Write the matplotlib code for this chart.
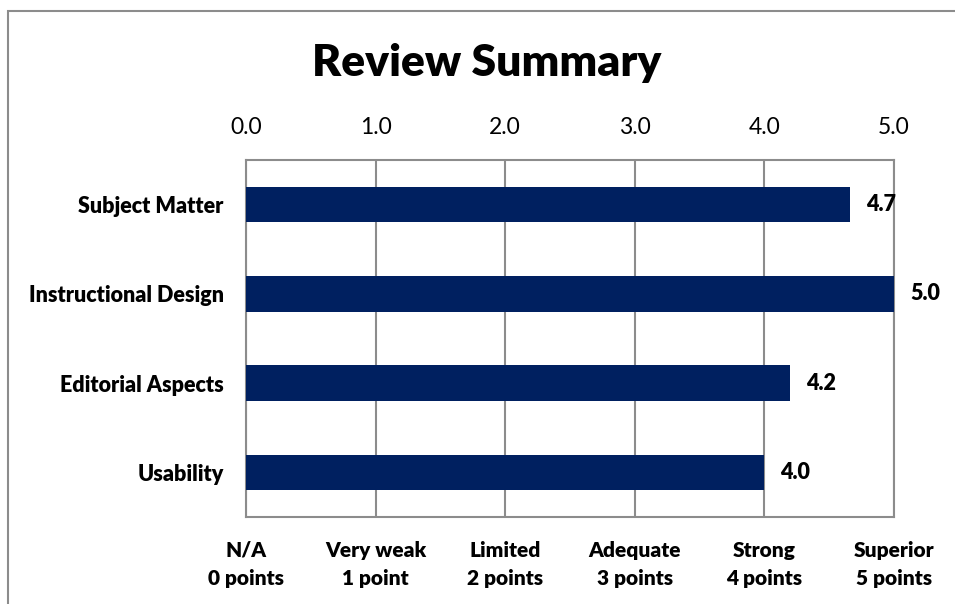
import matplotlib
matplotlib.use("Agg")
import matplotlib.pyplot as plt
from matplotlib.patches import Rectangle

categories = ["Subject Matter", "Instructional Design", "Editorial Aspects", "Usability"]
scores = [4.66, 5.0, 4.2, 4.0]
score_labels = ["4.7", "5.0", "4.2", "4.0"]
top_ticks = [0, 1, 2, 3, 4, 5]
top_tick_labels = ["0.0", "1.0", "2.0", "3.0", "4.0", "5.0"]
bottom_tick_labels = ["N/A\n0 points", "Very weak\n1 point", "Limited\n2 points",
                      "Adequate\n3 points", "Strong\n4 points", "Superior\n5 points"]

plt.rcParams['font.family'] = ['Lato', 'DejaVu Sans']
BW = "heavy"

W, H = 955, 604
fig = plt.figure(figsize=(W / 100, H / 100), dpi=100)

# outer border
fig.patches.append(Rectangle((8 / W, -0.1), 1.2, (H - 11) / H + 0.1, transform=fig.transFigure,
                             fill=False, edgecolor="#8c8c8c", linewidth=1.5))

ax = fig.add_axes([246 / W, 1 - 517 / H, (894 - 246) / W, (517 - 160) / H])
ypos = list(range(len(categories)))
ax.barh(ypos, scores, height=0.4, color="#002060", zorder=3)
ax.set_xlim(0, 5)
ax.set_ylim(len(categories) - 0.5, -0.5)
ax.set_yticks(ypos)
ax.set_yticklabels(categories, fontsize=15.5, fontweight=BW)
ax.tick_params(axis="y", length=0, pad=16)

ax.xaxis.tick_top()
ax.set_xticks(top_ticks)
ax.set_xticklabels(top_tick_labels, fontsize=16.5)
ax.tick_params(axis="x", length=0, pad=16)
ax.grid(axis="x", color="#8c8c8c", linewidth=1.5, zorder=0)
for s in ax.spines.values():
    s.set_color("#8c8c8c")
    s.set_linewidth(1.5)

sec = ax.secondary_xaxis("bottom")
sec.set_xticks(top_ticks)
sec.set_xticklabels(bottom_tick_labels, fontsize=15, fontweight=BW, linespacing=1.6)
sec.tick_params(length=0, pad=17)
sec.spines["bottom"].set_visible(False)

for y, v, lab in zip(ypos, scores, score_labels):
    ax.annotate(lab, (v, y), xytext=(16, 0), textcoords="offset pixels",
                va="center", ha="left", fontsize=15.5, fontweight=BW, zorder=4,
                annotation_clip=False)

fig.text(487 / W, 1 - 63 / H, "Review Summary", ha="center", va="center",
         fontsize=32, fontweight=BW)

fig.savefig("out.png", dpi=100)
